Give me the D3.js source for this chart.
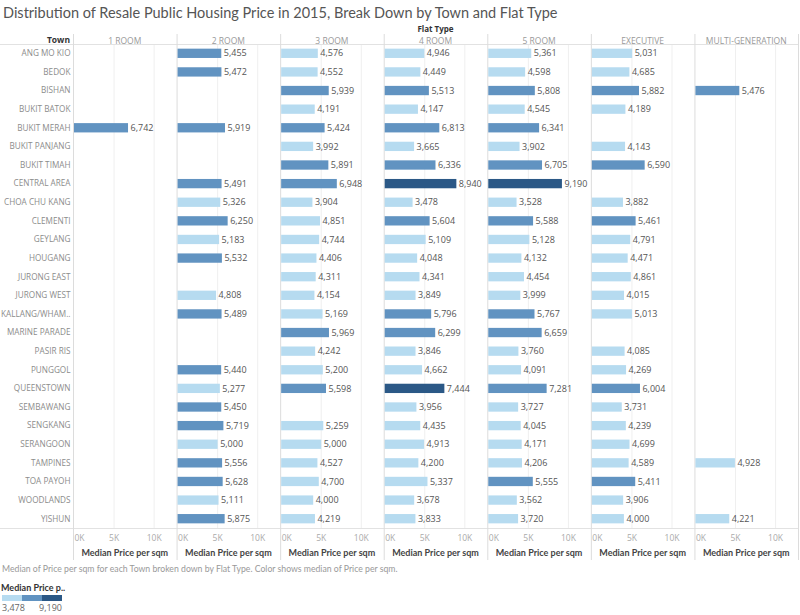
<!DOCTYPE html>
<html>
<head>
<meta charset="utf-8">
<script src="https://cdn.jsdelivr.net/npm/d3@7"></script>
<style>
  body { margin: 0; background: #fff; }
  text { font-family: "Open Sans", sans-serif; }
  .lato { font-family: Lato, sans-serif; }
</style>
</head>
<body>
<div id="chart"></div>
<script>
// towns on the rows, flat types on the columns
const towns = ["ANG MO KIO", "BEDOK", "BISHAN", "BUKIT BATOK", "BUKIT MERAH", "BUKIT PANJANG",
  "BUKIT TIMAH", "CENTRAL AREA", "CHOA CHU KANG", "CLEMENTI", "GEYLANG", "HOUGANG",
  "JURONG EAST", "JURONG WEST", "KALLANG/WHAM..", "MARINE PARADE", "PASIR RIS", "PUNGGOL",
  "QUEENSTOWN", "SEMBAWANG", "SENGKANG", "SERANGOON", "TAMPINES", "TOA PAYOH", "WOODLANDS", "YISHUN"];
const flatTypes = ["1 ROOM", "2 ROOM", "3 ROOM", "4 ROOM", "5 ROOM", "EXECUTIVE", "MULTI-GENERATION"];

// median price per sqm, one value per town (null = no sales)
const room1 = [null, null, null, null, 6742, null, null, null, null, null, null, null, null,
  null, null, null, null, null, null, null, null, null, null, null, null, null];
const room2 = [5455, 5472, null, null, 5919, null, null, 5491, 5326, 6250, 5183, 5532, null,
  4808, 5489, null, null, 5440, 5277, 5450, 5719, 5000, 5556, 5628, 5111, 5875];
const room3 = [4576, 4552, 5939, 4191, 5424, 3992, 5891, 6948, 3904, 4851, 4744, 4406, 4311,
  4154, 5169, 5969, 4242, 5200, 5598, null, 5259, 5000, 4527, 4700, 4000, 4219];
const room4 = [4946, 4449, 5513, 4147, 6813, 3665, 6336, 8940, 3478, 5604, 5109, 4048, 4341,
  3849, 5796, 6299, 3846, 4662, 7444, 3956, 4435, 4913, 4200, 5337, 3678, 3833];
const room5 = [5361, 4598, 5808, 4545, 6341, 3902, 6705, 9190, 3528, 5588, 5128, 4132, 4454,
  3999, 5767, 6659, 3760, 4091, 7281, 3727, 4045, 4171, 4206, 5555, 3562, 3720];
const executive = [5031, 4685, 5882, 4189, null, 4143, 6590, null, 3882, 5461, 4791, 4471, 4861,
  4015, 5013, null, 4085, 4269, 6004, 3731, 4239, 4699, 4589, 5411, 3906, 4000];
const multiGen = [null, null, 5476, null, null, null, null, null, null, null, null, null, null,
  null, null, null, null, null, null, null, null, null, 4928, null, null, 4221];

const xTicks = [0, 5000, 10000];
const tickLabels = ["0K", "5K", "10K"];
const legendLabels = ["3,478", "9,190"];

const series = [room1, room2, room3, room4, room5, executive, multiGen];

// flatten into rows for the bars
let rows = [];
series.forEach((vals, i) => {
  vals.forEach((v, j) => {
    if (v != null) rows.push({ type: flatTypes[i], town: towns[j], value: v });
  });
});

const width = 800, height = 615;
const plotLeft = 73, plotRight = 798, plotTop = 44, plotBottom = 528;

const svg = d3.select("#chart").append("svg")
  .attr("width", width)
  .attr("height", height);

const panel = d3.scaleBand().domain(flatTypes).range([plotLeft, plotRight]);
const y = d3.scaleBand().domain(towns).range([plotTop, plotBottom]).paddingInner(0.5).paddingOuter(0.25);
const x = d3.scaleLinear().domain([0, 12800]).range([1, panel.bandwidth()]);

const allVals = rows.map(d => d.value);
const vmin = d3.min(allVals), vmax = d3.max(allVals);
const step = (vmax - vmin) / 3;
const color = d3.scaleThreshold()
  .domain([vmin + step, vmin + 2 * step])
  .range(["#b6dbf0", "#6193c1", "#2b5886"]);

// title
svg.append("text")
  .attr("class", "lato")
  .attr("x", 3)
  .attr("y", 18)
  .attr("font-size", 14.5)
  .attr("fill", "#555")
  .text("Distribution of Resale Public Housing Price in 2015, Break Down by Town and Flat Type");

svg.append("text")
  .attr("x", (plotLeft + plotRight) / 2)
  .attr("y", 31.5)
  .attr("text-anchor", "middle")
  .attr("font-size", 8)
  .attr("font-weight", 700)
  .attr("fill", "#333")
  .text("Flat Type");

svg.append("text")
  .attr("x", 70)
  .attr("y", 43)
  .attr("text-anchor", "end")
  .attr("font-size", 8.5)
  .attr("font-weight", 700)
  .attr("fill", "#333")
  .text("Town");

// gridlines
flatTypes.forEach(t => {
  xTicks.slice(1).forEach(tk => {
    svg.append("line")
      .attr("x1", panel(t) + x(tk)).attr("x2", panel(t) + x(tk))
      .attr("y1", plotTop).attr("y2", plotBottom)
      .attr("stroke", "#efefef");
  });
});

// horizontal rules
[plotTop, plotBottom].forEach(yy => {
  svg.append("line")
    .attr("x1", 0).attr("x2", plotRight)
    .attr("y1", yy + 0.5).attr("y2", yy + 0.5)
    .attr("stroke", "#e2e2e2");
});

// panel borders
flatTypes.concat(["end"]).forEach((t, i) => {
  let xx = i < flatTypes.length ? panel(t) : plotRight;
  svg.append("line")
    .attr("x1", xx + 0.5).attr("x2", xx + 0.5)
    .attr("y1", 34).attr("y2", 560)
    .attr("stroke", "#dcdcdc");
});

// column headers
svg.selectAll(".colhead")
  .data(flatTypes)
  .join("text")
  .attr("x", d => panel(d) + panel.bandwidth() / 2)
  .attr("y", 43.5)
  .attr("text-anchor", "middle")
  .attr("font-size", 8.5)
  .attr("fill", "#999")
  .text(d => d);

// town labels
svg.selectAll(".town")
  .data(towns)
  .join("text")
  .attr("x", 70.5)
  .attr("y", d => y(d) + y.bandwidth() / 2)
  .attr("dy", "0.35em")
  .attr("text-anchor", "end")
  .attr("font-size", 8.2)
  .attr("fill", "#8c8c8c")
  .text(d => d);

// bars
svg.selectAll(".bar")
  .data(rows)
  .join("rect")
  .attr("x", d => panel(d.type) + x(0))
  .attr("y", d => y(d.town))
  .attr("width", d => x(d.value) - x(0))
  .attr("height", y.bandwidth())
  .attr("fill", d => color(d.value));

svg.selectAll(".val")
  .data(rows)
  .join("text")
  .attr("x", d => panel(d.type) + x(d.value) + 2.5)
  .attr("y", d => y(d.town) + y.bandwidth() / 2)
  .attr("dy", "0.35em")
  .attr("font-size", 9)
  .attr("fill", "#555")
  .text(d => d3.format(",")(d.value));

// axes
flatTypes.forEach(t => {
  xTicks.forEach((tk, k) => {
    svg.append("text")
      .attr("x", tk == 0 ? panel(t) + 1.5 : panel(t) + x(tk))
      .attr("y", 541)
      .attr("text-anchor", tk == 0 ? "start" : "middle")
      .attr("font-size", 8.5)
      .attr("fill", "#aaa")
      .text(tickLabels[k]);
  });
  svg.append("text")
    .attr("class", "lato")
    .attr("x", panel(t) + panel.bandwidth() / 2)
    .attr("y", 556)
    .attr("text-anchor", "middle")
    .attr("font-size", 9)
    .attr("font-weight", 700)
    .attr("fill", "#444")
    .text("Median Price per sqm");
});

// footnote
svg.append("text")
  .attr("class", "lato")
  .attr("x", 2)
  .attr("y", 572)
  .attr("font-size", 8.7)
  .attr("fill", "#999")
  .text("Median of Price per sqm for each Town broken down by Flat Type.  Color shows median of Price per sqm.");

// legend
svg.append("text")
  .attr("class", "lato")
  .attr("x", 1)
  .attr("y", 591)
  .attr("font-size", 9)
  .attr("font-weight", 700)
  .attr("fill", "#333")
  .text("Median Price p..");

const lg = d3.scaleLinear().domain([vmin, vmax]).range([2, 62]);
color.range().forEach((c, i) => {
  let a = vmin + i * step, b = vmin + (i + 1) * step;
  svg.append("rect")
    .attr("x", lg(a))
    .attr("y", 595)
    .attr("width", lg(b) - lg(a))
    .attr("height", 6)
    .attr("fill", c);
});

svg.append("text")
  .attr("x", 2).attr("y", 611)
  .attr("font-size", 9).attr("fill", "#666")
  .text(legendLabels[0]);
svg.append("text")
  .attr("x", 62).attr("y", 611)
  .attr("text-anchor", "end")
  .attr("font-size", 9).attr("fill", "#666")
  .text(legendLabels[1]);
</script>
</body>
</html>
